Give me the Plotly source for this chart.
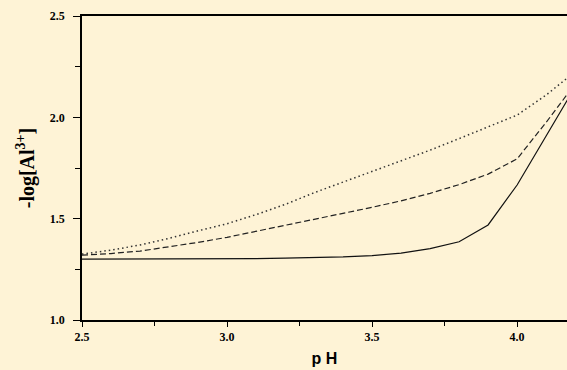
import plotly.graph_objects as go

ph = [2.5, 2.6, 2.7, 2.8, 2.9, 3.0, 3.1, 3.2, 3.3, 3.4, 3.5, 3.6, 3.7, 3.8, 3.9, 4.0, 4.1, 4.2]
solid = [1.300, 1.300, 1.300, 1.301, 1.301, 1.302, 1.303, 1.305, 1.307, 1.311, 1.318, 1.330, 1.352, 1.386, 1.469, 1.666, 1.908, 2.150]
dashed = [1.320, 1.328, 1.340, 1.360, 1.383, 1.408, 1.437, 1.468, 1.498, 1.527, 1.556, 1.588, 1.625, 1.668, 1.720, 1.795, 1.975, 2.165]
dotted = [1.325, 1.345, 1.370, 1.403, 1.440, 1.475, 1.520, 1.570, 1.628, 1.680, 1.732, 1.782, 1.838, 1.895, 1.955, 2.011, 2.110, 2.225]

x_ticks = [2.5, 3.0, 3.5, 4.0]
y_ticks = [1.0, 1.5, 2.0, 2.5]

bg = "#FEF3D6"
fig = go.Figure()
fig.add_trace(go.Scatter(x=ph, y=dotted, mode="lines", line=dict(color="#333", width=1.5, dash="1.5px,3px"), showlegend=False))
fig.add_trace(go.Scatter(x=ph, y=dashed, mode="lines", line=dict(color="#222", width=1.2, dash="6px,3px"), showlegend=False))
fig.add_trace(go.Scatter(x=ph, y=solid, mode="lines", line=dict(color="#111", width=1.2), showlegend=False))

tickfont = dict(family="Liberation Serif", size=12, color="black")
fig.update_layout(
    width=567, height=370,
    margin=dict(l=82, r=0, t=16, b=50),
    paper_bgcolor=bg, plot_bgcolor=bg,
    xaxis=dict(range=[2.5, 4.172], tickvals=x_ticks, ticktext=["<b>%.1f</b>" % v for v in x_ticks],
               showgrid=False, zeroline=False, showline=True, linecolor="black", linewidth=1.5,
               mirror=True, ticks="outside", ticklen=5, tickwidth=1.3, tickcolor="black",
               minor=dict(dtick=0.25, tick0=2.5, ticks="outside", ticklen=4, tickwidth=1.3, tickcolor="black", showgrid=False),
               tickfont=tickfont,
               title=dict(text="<b>p H</b>", font=dict(family="Liberation Sans", size=16, color="black"), standoff=10)),
    yaxis=dict(range=[1.0, 2.5], tickvals=y_ticks, ticktext=["<b>%.1f</b>" % v for v in y_ticks],
               showgrid=False, zeroline=False, showline=True, linecolor="black", linewidth=1.5,
               ticks="outside", ticklen=7, tickwidth=1.3, tickcolor="black", ticklabelstandoff=6,
               minor=dict(dtick=0.25, tick0=1.0, ticks="outside", ticklen=5, tickwidth=1.3, tickcolor="black", showgrid=False),
               tickfont=tickfont,
               title=dict(text="<b>-log[Al<sup>3+</sup>]</b>", font=dict(family="Liberation Serif", size=20, color="black"), standoff=10)),
)
fig.write_html("out.html", config={"displayModeBar": False},
               post_script="document.body.style.margin='0';document.body.style.background='%s';" % bg)
